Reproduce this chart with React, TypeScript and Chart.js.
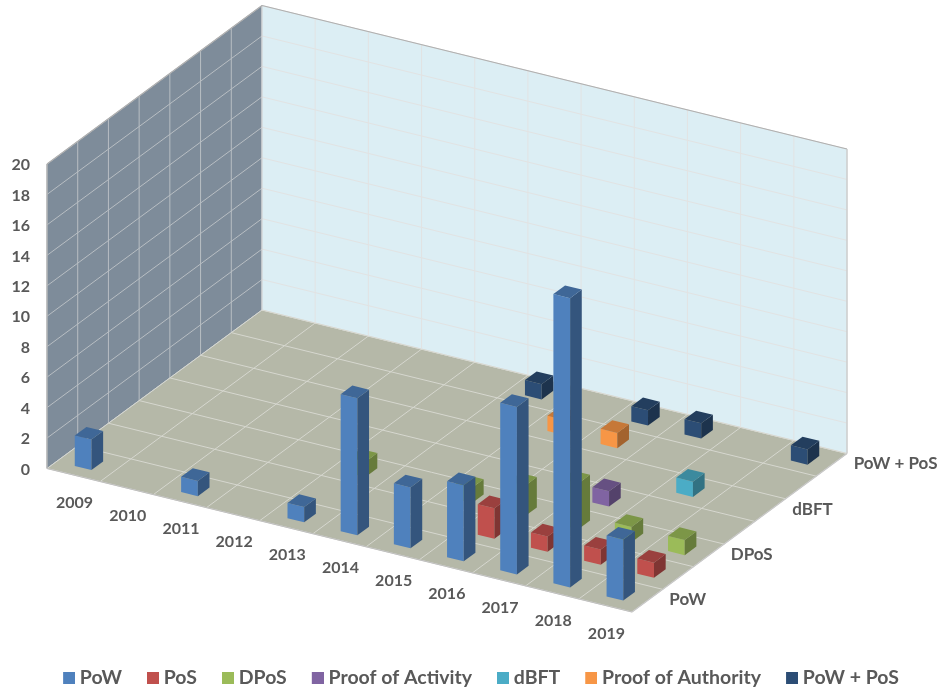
import React, { useEffect, useRef } from "react";
import { Chart, registerables } from "chart.js";

Chart.register(...registerables);

const years = ["2009", "2010", "2011", "2012", "2013", "2014", "2015", "2016", "2017", "2018", "2019"];
const seriesNames = ["PoW", "PoS", "DPoS", "Proof of Activity", "dBFT", "Proof of Authority", "PoW + PoS"];
const valueTicks = { min: 0, max: 20, step: 2 };

const pow = [2, null, 1, null, 1, 9, 4, 5, 11, 19, 4];
const pos = [null, null, null, null, null, null, null, 2, 1, 1, 1];
const dpos = [null, null, null, null, 1, null, 1, 2, 3, 1, 1];
const proofOfActivity = [null, null, null, null, null, null, null, null, 1, null, null];
const dbft = [null, null, null, null, null, null, null, null, null, 1, null];
const proofOfAuthority = [null, null, null, null, null, null, 1, 1, null, null, null];
const powPlusPos = [null, null, null, null, null, 1, null, 1, 1, null, 1];

const seriesValues = [pow, pos, dpos, proofOfActivity, dbft, proofOfAuthority, powPlusPos];
const seriesColors = ["#4F81BD", "#C0504D", "#9BBB59", "#8064A2", "#4BACC6", "#F79646", "#2C4D75"];

const FONT = "Lato, 'Open Sans', sans-serif";
const TEXT = "#595959";

// Oblique view of the box: how far the x and depth axes lean on the page.
const X_DROP = 143.5;
const DEPTH_RUN = 215;
const DEPTH_RISE = 158.5;
const BAR_X = 0.314;
const BAR_D = 0.38;

function shade(hex: string, k: number) {
  const n = parseInt(hex.slice(1), 16);
  const c = [(n >> 16) & 255, (n >> 8) & 255, n & 255].map((v) => Math.round(v * k));
  return `rgb(${c[0]},${c[1]},${c[2]})`;
}

// Legend swatch: a 12px square at the right of a wider image, so it sits closer to its text.
function swatch(color: string) {
  const c = document.createElement("canvas");
  c.width = 22;
  c.height = 12;
  const g = c.getContext("2d")!;
  g.fillStyle = color;
  g.fillRect(10, 0, 12, 12);
  return c;
}

const box3d = {
  id: "box3d",
  afterLayout(chart: any) {
    // the legend sits a little right of the page centre, on the bottom row
    const legend = chart.legend;
    if (legend) {
      legend.left = 17;
      legend.top = 648.25;
    }
  },
  beforeDatasetsDraw(chart: any) {
    const { ctx } = chart;
    const xs = chart.scales.x;
    const ys = chart.scales.y;
    const ds = chart.scales.depth;
    const nx = years.length;
    const nd = seriesNames.length;

    const P = (xf: number, df: number, v: number): [number, number] => [
      xs.left + xs.width * xf + DEPTH_RUN * df,
      ys.getPixelForValue(v) + X_DROP * xf - DEPTH_RISE * df,
    ];
    const poly = (pts: [number, number][], fill: string) => {
      ctx.beginPath();
      pts.forEach((p, i) => (i ? ctx.lineTo(p[0], p[1]) : ctx.moveTo(p[0], p[1])));
      ctx.closePath();
      ctx.fillStyle = fill;
      ctx.fill();
    };
    const line = (a: [number, number], b: [number, number], color: string, lw: number) => {
      ctx.beginPath();
      ctx.moveTo(a[0], a[1]);
      ctx.lineTo(b[0], b[1]);
      ctx.strokeStyle = color;
      ctx.lineWidth = lw;
      ctx.stroke();
    };

    const vMax = valueTicks.max;
    ctx.save();

    // walls and floor
    poly([P(0, 0, 0), P(0, 1, 0), P(0, 1, vMax), P(0, 0, vMax)], "#7E8C9A");
    poly([P(0, 1, 0), P(1, 1, 0), P(1, 1, vMax), P(0, 1, vMax)], "#DCEEF4");
    poly([P(0, 0, 0), P(1, 0, 0), P(1, 1, 0), P(0, 1, 0)], "#B5B8A8");

    // grid lines, from the scales' ticks
    for (const t of ys.ticks) {
      line(P(0, 0, t.value), P(0, 1, t.value), "#B8BEC3", 1);
      line(P(0, 1, t.value), P(1, 1, t.value), "#E2E3E3", 1);
    }
    for (let r = 0; r <= nd; r++) {
      const f = r / nd;
      line(P(0, f, 0), P(0, f, vMax), "#B8BEC3", 1);
      line(P(0, f, 0), P(1, f, 0), "#D6D7CF", 1);
    }
    for (let i = 0; i <= nx; i++) {
      const f = i / nx;
      line(P(f, 0, 0), P(f, 1, 0), "#D6D7CF", 1);
      line(P(f, 1, 0), P(f, 1, vMax), "#E2E3E3", 1);
    }
    // wall outline
    line(P(0, 0, 0), P(0, 0, vMax), "#B0B0B0", 1.2);
    line(P(0, 0, vMax), P(0, 1, vMax), "#B0B0B0", 1.2);
    line(P(0, 1, vMax), P(1, 1, vMax), "#B0B0B0", 1.2);
    line(P(1, 1, vMax), P(1, 1, 0), "#C8C8C8", 1.2);
    line(P(0, 0, 0), P(1, 0, 0), "#C0C0C0", 1.2);
    line(P(1, 0, 0), P(1, 1, 0), "#C8C8C8", 1.2);

    // bars, back to front
    const wx = BAR_X / nx / 2;
    const wd = BAR_D / nd / 2;
    for (let r = nd - 1; r >= 0; r--) {
      const dataset = chart.data.datasets[r];
      const df = (ds.bottom - ds.getPixelForValue(r)) / ds.height;
      for (let i = 0; i < nx; i++) {
        const v = dataset.data[i];
        if (v == null) continue;
        const xf = (xs.getPixelForValue(i) - xs.left) / xs.width;
        const color = dataset.backgroundColor as string;
        const x0 = xf - wx, x1 = xf + wx, d0 = df - wd, d1 = df + wd;
        poly([P(x0, d0, 0), P(x1, d0, 0), P(x1, d0, v), P(x0, d0, v)], color);
        poly([P(x1, d0, 0), P(x1, d1, 0), P(x1, d1, v), P(x1, d0, v)], shade(color, 0.66));
        poly([P(x0, d0, v), P(x1, d0, v), P(x1, d1, v), P(x0, d1, v)], shade(color, 0.8));
      }
    }

    // axis labels along the floor's front edges
    ctx.fillStyle = TEXT;
    ctx.textBaseline = "middle";
    ctx.textAlign = "center";
    ctx.font = `bold 16px ${FONT}`;
    years.forEach((label, i) => {
      const xf = (xs.getPixelForValue(i) - xs.left) / xs.width;
      const p = P(xf, 0, 0);
      ctx.fillText(label, p[0] + 1, p[1] + 28);
    });
    ctx.textAlign = "left";
    ctx.font = `bold 17px ${FONT}`;
    seriesNames.forEach((label, r) => {
      if (r % 2) return;
      const df = (ds.bottom - ds.getPixelForValue(r)) / ds.height;
      const p = P(1, df, 0);
      ctx.fillText(label, p[0] + 22, p[1] - 1);
    });

    ctx.restore();
    return false;
  },
};

export default function App() {
  const ref = useRef<HTMLCanvasElement>(null);
  useEffect(() => {
    const chart = new Chart(ref.current!, {
      type: "bar",
      data: {
        labels: years,
        datasets: seriesNames.map((name, i) => ({
          label: name,
          data: seriesValues[i],
          backgroundColor: seriesColors[i],
          borderWidth: 0,
          pointStyle: swatch(seriesColors[i]),
        })),
      },
      options: {
        responsive: false,
        animation: false,
        layout: { padding: { top: 164, left: 0, right: 0, bottom: 0 } },
        scales: {
          x: {
            type: "category",
            offset: true,
            grid: { display: false },
            border: { display: false },
            ticks: { display: false },
            afterFit(s: any) {
              s.height = 694 - 468.5 - (s.chart.legend?.height ?? 0);
            },
          },
          y: {
            min: valueTicks.min,
            max: valueTicks.max,
            grid: { display: false, drawTicks: false },
            border: { display: false },
            ticks: {
              stepSize: valueTicks.step,
              padding: 17,
              labelOffset: 1,
              color: TEXT,
              font: { family: FONT, size: 16, weight: "bold" },
            },
            afterFit(s: any) {
              s.width = 47;
            },
          },
          depth: {
            type: "category",
            axis: "y",
            position: "right",
            labels: seriesNames,
            offset: true,
            reverse: true,
            grid: { display: false },
            border: { display: false },
            ticks: { display: false },
            afterFit(s: any) {
              s.width = 308;
            },
          },
        },
        plugins: {
          tooltip: { enabled: false },
          legend: {
            position: "bottom",
            labels: {
              usePointStyle: true,
              boxWidth: 12,
              boxHeight: 12,
              padding: 20,
              color: TEXT,
              font: { family: FONT, size: 19.5, weight: "bold" },
            },
          },
        },
      } as any,
      plugins: [box3d as any],
    });
    return () => chart.destroy();
  }, []);
  return (
    <canvas
      ref={ref}
      width={940}
      height={694}
      style={{ position: "fixed", left: 0, top: 0, display: "block" }}
    />
  );
}
